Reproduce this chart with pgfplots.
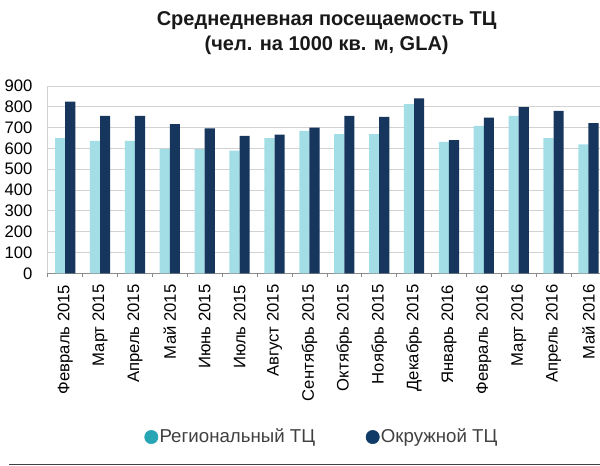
\documentclass[border=0pt]{standalone}
\usepackage{pgfplots}
\pgfplotsset{compat=1.18}
\usepackage{fontspec}
\setmainfont{Liberation Sans}
\definecolor{lightbar}{RGB}{163,222,231}
\definecolor{darkbar}{RGB}{22,54,93}
\definecolor{leglight}{RGB}{38,165,180}
\definecolor{legdark}{RGB}{16,58,104}
\definecolor{gridc}{RGB}{210,210,210}
\definecolor{axisc}{RGB}{140,140,140}
\begin{document}
\begin{tikzpicture}
\begin{axis}[
  at={(35.8pt,144.5pt)}, anchor=south west,
  scale only axis, width=414.2pt, height=140.5pt,
  ybar, bar width=0.29,
  xmin=-0.5, xmax=15.33,
  ymin=0, ymax=900, ytick={0,100,...,900},
  /pgf/number format/assume math mode=true,
  yticklabel style={font=\fontsize{12.5}{14}\selectfont, xshift=-8pt},
  xtick={0,...,15},
  xticklabels={Февраль 2015,Март 2015,Апрель 2015,Май 2015,Июнь 2015,Июль 2015,Август 2015,Сентябрь 2015,Октябрь 2015,Ноябрь 2015,Декабрь 2015,Январь 2016,Февраль 2016,Март 2016,Апрель 2016,Май 2016},
  xticklabel style={rotate=90, anchor=east, font=\fontsize{12.5}{14}\selectfont, xshift=-5pt},
  minor xtick={-0.5,0.5,...,15.5},
  major tick length=0pt, minor tick length=3pt,
  tick align=outside,
  axis x line*=bottom, axis y line*=left,
  x axis line style={axisc, -}, y axis line style={gridc, -},
  every tick/.style={axisc},
  ymajorgrids, grid style={gridc, line width=0.6pt},
  legend columns=2,
  legend style={draw=none, at={(0.497,-0.874)}, anchor=center,
    font=\fontsize{14}{16}\selectfont, text=black!75,
    /tikz/every even column/.append style={column sep=36pt},
    /tikz/every odd column/.append style={column sep=-1pt}},
  legend cell align=left,
]
\addlegendimage{legend image code/.code={\fill[leglight] (0.35cm,0) circle (5pt);}}
\addlegendentry{Региональный ТЦ}
\addlegendimage{legend image code/.code={\fill[legdark] (0.35cm,0) circle (5pt);}}
\addlegendentry{Окружной ТЦ}
\addplot[fill=lightbar, draw=none, bar shift=-0.145, forget plot] coordinates {
(0,650) (1,636) (2,636) (3,597) (4,597) (5,589) (6,649) (7,685)
(8,669) (9,669) (10,813) (11,631) (12,708) (13,756) (14,649) (15,620)};
\addplot[fill=darkbar, draw=none, bar shift=0.145, forget plot] coordinates {
(0,825) (1,757) (2,757) (3,717) (4,697) (5,661) (6,666) (7,700)
(8,757) (9,752) (10,841) (11,640) (12,748) (13,799) (14,781) (15,722)};
\end{axis}
\node[anchor=north, align=center, font=\bfseries\fontsize{15}{18.75}\selectfont, text=black!90] at (245pt,344pt)
  {Среднедневная посещаемость ТЦ\\(чел. на 1000 кв. м, GLA)};
\draw[black!75, line width=1.2pt] (7pt,1pt) -- (450pt,1pt);
\pgfresetboundingbox
\path (0,0) rectangle (450pt,349.5pt);
\end{tikzpicture}
\end{document}
